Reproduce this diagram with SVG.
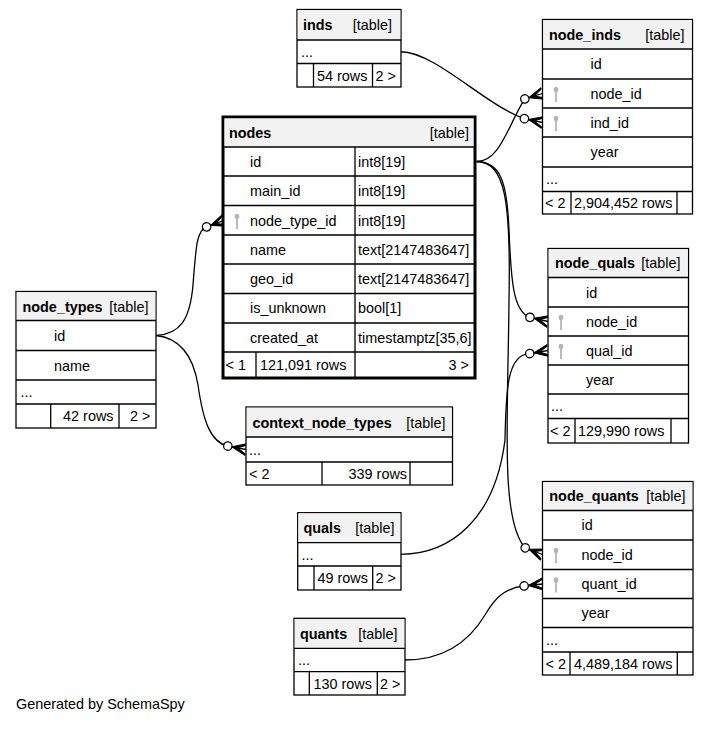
<svg xmlns="http://www.w3.org/2000/svg" xmlns:xlink="http://www.w3.org/1999/xlink" width="709" height="751" viewBox="0 0 709 751">
<style>
text{font-family:"Liberation Sans",Arial,Helvetica,sans-serif;font-size:14.4px;fill:#000}
.b{font-weight:bold}
.e{text-anchor:end}
.box{fill:#fff;stroke:#000;stroke-width:1.3}
.thick{fill:#fff;stroke:#000;stroke-width:3}
.hdr{fill:#f2f2f2}
.ln{stroke:#000;stroke-width:1.3;fill:none}
.edge{fill:none;stroke:#000;stroke-width:1.3}
</style>
<defs>
<g id="crow">
<path d="M0,-6 L-14.5,0 L0,6 L0,4.4 L-8.5,0 L0,-4.4 Z" fill="#000" stroke="#000" stroke-width="0.9" stroke-linejoin="round"/>
<path d="M-14.5,0 L0,0" stroke="#000" stroke-width="1.3"/>
<circle cx="-18.5" cy="0" r="4.2" fill="#fff" stroke="#000" stroke-width="1.3"/>
</g>
<g id="key">
<ellipse cx="0" cy="-4" rx="2.3" ry="2.8" fill="#b5b5b5"/>
<rect x="-0.9" y="-2" width="1.8" height="10.5" fill="#b5b5b5"/>
</g>
</defs>
<rect width="709" height="751" fill="#fff"/>

<g id="connectors">
<path class="edge" d="M401,51.75 C435,52 485,105 524.4,118.65"/>
<path class="edge" d="M476.5,161.5 C500,162 508,125 524.8,98.9"/>
<path class="edge" d="M476.5,161.5 C500,162 507,180 509,230 C511,280 513,312 530,317.3"/>
<path class="edge" d="M476.5,161.5 C505,162 511,200 509,300 C508,420 500,520 525.2,547.9"/>
<path class="edge" d="M401,554.3 C450,554 495,520 505,440 C506,390 507,354 529.8,353.55"/>
<path class="edge" d="M405,660 C445,660 470,640 485,615 C495,598 505,588 524.1,585.9"/>
<path class="edge" d="M156,335.5 C180,334 190,320 193,285 C196,245 197,230 206.6,226.8"/>
<path class="edge" d="M156,335.5 C180,338 193,355 198,385 C203,420 210,442 227.8,446.1"/>
<use xlink:href="#crow" transform="translate(542.5,93.5) rotate(-17)"/>
<use xlink:href="#crow" transform="translate(542.5,122.5) rotate(12)"/>
<use xlink:href="#crow" transform="translate(548,321.5) rotate(13)"/>
<use xlink:href="#crow" transform="translate(548,350.5) rotate(-9.5)"/>
<use xlink:href="#crow" transform="translate(542.5,554.5) rotate(21)"/>
<use xlink:href="#crow" transform="translate(542.5,584) rotate(-6)"/>
<use xlink:href="#crow" transform="translate(224,220.5) rotate(-20)"/>
<use xlink:href="#crow" transform="translate(246,449.5) rotate(10.6)"/>
</g>

<g id="inds">
<rect class="box" x="297" y="9.5" width="104" height="77.5"/>
<rect class="hdr" x="297.7" y="10.2" width="102.6" height="29.5"/>
<path class="ln" d="M297,40 H401 M297,63.5 H401 M313.5,63.5 V87 M372.5,63.5 V87"/>
<text class="b" x="303" y="30">inds</text>
<text class="e" x="392" y="30">[table]</text>
<text x="301" y="57">...</text>
<text x="317" y="80.5">54 rows</text>
<text x="375.5" y="80.5">2 &gt;</text>
</g>

<g id="node_inds">
<rect class="box" x="542.5" y="19.5" width="150" height="194.5"/>
<rect class="hdr" x="543.2" y="20.2" width="148.6" height="28.5"/>
<path class="ln" d="M542.5,49 H692.5 M542.5,79 H692.5 M542.5,108 H692.5 M542.5,137 H692.5 M542.5,167 H692.5 M542.5,191.5 H692.5 M571,191.5 V214 M677,191.5 V214"/>
<text class="b" x="549" y="39.5">node_inds</text>
<text class="e" x="684.5" y="39.5">[table]</text>
<text x="590.5" y="69">id</text>
<use xlink:href="#key" x="556" y="93.5"/>
<text x="590.5" y="98.5">node_id</text>
<use xlink:href="#key" x="556" y="122.5"/>
<text x="590.5" y="127.5">ind_id</text>
<text x="590.5" y="157">year</text>
<text x="546" y="184">...</text>
<text x="545" y="208">&lt; 2</text>
<text x="574" y="208">2,904,452 rows</text>
</g>

<g id="nodes">
<rect class="thick" x="223" y="117" width="252" height="261"/>
<rect class="hdr" x="224.5" y="118.5" width="249" height="28.5"/>
<path class="ln" d="M223,147 H475 M223,176 H475 M223,205.5 H475 M223,235 H475 M223,264 H475 M223,293.5 H475 M223,323 H475 M223,352 H475 M355,147 V378 M256,352 V378"/>
<text class="b" x="229" y="138">nodes</text>
<text class="e" x="469" y="138">[table]</text>
<text x="250" y="167">id</text>
<text x="358" y="167">int8[19]</text>
<text x="250" y="196">main_id</text>
<text x="358" y="196">int8[19]</text>
<use xlink:href="#key" x="237" y="220.5"/>
<text x="250" y="225.5">node_type_id</text>
<text x="358" y="225.5">int8[19]</text>
<text x="250" y="254.5">name</text>
<text x="358" y="254.5">text[2147483647]</text>
<text x="250" y="284">geo_id</text>
<text x="358" y="284">text[2147483647]</text>
<text x="250" y="313">is_unknown</text>
<text x="358" y="313">bool[1]</text>
<text x="250" y="342.5">created_at</text>
<text x="358" y="342.5">timestamptz[35,6]</text>
<text x="225.5" y="370">&lt; 1</text>
<text x="260" y="370">121,091 rows</text>
<text class="e" x="469" y="370">3 &gt;</text>
</g>

<g id="node_quals">
<rect class="box" x="548" y="248.5" width="140.5" height="194.5"/>
<rect class="hdr" x="548.7" y="249.2" width="139.1" height="27.8"/>
<path class="ln" d="M548,277.5 H688.5 M548,307 H688.5 M548,336 H688.5 M548,365 H688.5 M548,394 H688.5 M548,418.5 H688.5 M575,418.5 V443 M671,418.5 V443"/>
<text class="b" x="555" y="268">node_quals</text>
<text class="e" x="680.5" y="268">[table]</text>
<text x="586" y="297.5">id</text>
<use xlink:href="#key" x="561" y="321.5"/>
<text x="586" y="326.5">node_id</text>
<use xlink:href="#key" x="561" y="350.5"/>
<text x="586" y="355.5">qual_id</text>
<text x="586" y="384.5">year</text>
<text x="551" y="411">...</text>
<text x="550" y="435.5">&lt; 2</text>
<text x="578" y="435.5">129,990 rows</text>
</g>

<g id="node_types">
<rect class="box" x="16" y="291.5" width="140" height="136.5"/>
<rect class="hdr" x="16.7" y="292.2" width="138.6" height="28"/>
<path class="ln" d="M16,320.5 H156 M16,350.5 H156 M16,380 H156 M16,404 H156 M50.7,404 V428 M119,404 V428"/>
<text class="b" x="22.5" y="311.5">node_types</text>
<text class="e" x="148.5" y="311.5">[table]</text>
<text x="54" y="341">id</text>
<text x="54" y="370.5">name</text>
<text x="20.5" y="397">...</text>
<text class="e" x="113.5" y="421">42 rows</text>
<text x="130" y="421">2 &gt;</text>
</g>

<g id="context_node_types">
<rect class="box" x="246" y="407" width="206.5" height="78"/>
<rect class="hdr" x="246.7" y="407.7" width="205.1" height="29"/>
<path class="ln" d="M246,437 H452.5 M246,462 H452.5 M322,462 V485 M410,462 V485"/>
<text class="b" x="252.5" y="427.5">context_node_types</text>
<text class="e" x="445.5" y="427.5">[table]</text>
<text x="249" y="454.5">...</text>
<text x="249" y="478.5">&lt; 2</text>
<text class="e" x="407" y="478.5">339 rows</text>
</g>

<g id="quals">
<rect class="box" x="297.7" y="512.7" width="103.3" height="77.3"/>
<rect class="hdr" x="298.4" y="513.4" width="101.9" height="29"/>
<path class="ln" d="M297.7,542.7 H401 M297.7,566 H401 M314,566 V590 M372.7,566 V590"/>
<text class="b" x="303.5" y="533">quals</text>
<text class="e" x="394.5" y="533">[table]</text>
<text x="301.5" y="559.5">...</text>
<text x="317.5" y="583">49 rows</text>
<text x="375.5" y="583">2 &gt;</text>
</g>

<g id="node_quants">
<rect class="box" x="542.5" y="481.5" width="150.5" height="193.5"/>
<rect class="hdr" x="543.2" y="482.2" width="149.1" height="28.3"/>
<path class="ln" d="M542.5,510.5 H693 M542.5,540 H693 M542.5,569.5 H693 M542.5,598.5 H693 M542.5,627.5 H693 M542.5,652 H693 M570,652 V675 M677.3,652 V675"/>
<text class="b" x="549.3" y="501">node_quants</text>
<text class="e" x="685.5" y="501">[table]</text>
<text x="581.5" y="530">id</text>
<use xlink:href="#key" x="556" y="554.5"/>
<text x="581.5" y="559.5">node_id</text>
<use xlink:href="#key" x="556" y="584"/>
<text x="581.5" y="589">quant_id</text>
<text x="581.5" y="618">year</text>
<text x="546" y="645">...</text>
<text x="545.5" y="668.5">&lt; 2</text>
<text x="574" y="668.5">4,489,184 rows</text>
</g>

<g id="quants">
<rect class="box" x="294" y="618.3" width="111" height="76.7"/>
<rect class="hdr" x="294.7" y="619" width="109.6" height="29"/>
<path class="ln" d="M294,648.3 H405 M294,671.7 H405 M309.3,671.7 V695 M377.3,671.7 V695"/>
<text class="b" x="300" y="638.5">quants</text>
<text class="e" x="397.5" y="638.5">[table]</text>
<text x="298" y="665">...</text>
<text x="313.5" y="688.5">130 rows</text>
<text x="380" y="688.5">2 &gt;</text>
</g>

<text x="16" y="709">Generated by SchemaSpy</text>
</svg>
